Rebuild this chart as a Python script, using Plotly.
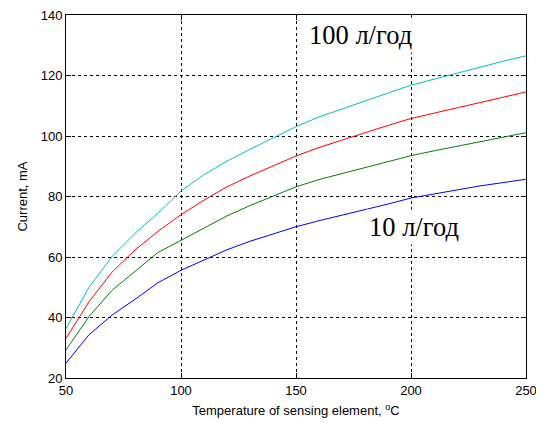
import plotly.graph_objects as go

temperature = [50, 60, 70, 80, 90, 100, 110, 120, 130, 140, 150,
               160, 170, 180, 190, 200, 210, 220, 230, 240, 250]

current_10 = [24.9, 34.3, 40.8, 46.0, 51.5, 55.6, 59.0, 62.4, 65.2, 67.7, 70.0,
              72.0, 73.8, 75.6, 77.5, 79.5, 80.9, 82.2, 83.5, 84.6, 85.7]
current_b = [29.3, 40.3, 49.0, 55.2, 61.5, 65.5, 69.6, 73.6, 77.0, 80.2, 83.2,
             85.6, 87.6, 89.6, 91.5, 93.5, 95.1, 96.6, 98.2, 99.7, 101.1]
current_c = [33.1, 45.2, 55.0, 62.3, 68.5, 74.0, 78.8, 83.2, 86.8, 90.2, 93.4,
             96.2, 98.7, 101.0, 103.5, 105.8, 107.5, 109.2, 111.0, 112.8, 114.6]
current_100 = [36.4, 50.0, 60.1, 67.8, 74.5, 81.8, 87.2, 91.7, 95.6, 99.4, 103.1,
               106.3, 109.0, 111.5, 114.2, 116.8, 118.8, 120.8, 122.8, 124.7, 126.5]

series = [
    (current_10, "#0000FF"),
    (current_b, "#008000"),
    (current_c, "#FF0000"),
    (current_100, "#00BFBF"),
]

x_ticks = [50, 100, 150, 200, 250]
y_ticks = [20, 40, 60, 80, 100, 120, 140]

fig = go.Figure()
for ys, col in series:
    fig.add_trace(go.Scatter(x=temperature, y=ys, mode="lines",
                             line=dict(color=col, width=1), showlegend=False))

axis_common = dict(
    showline=True, linecolor="black", linewidth=1, mirror="ticks",
    ticks="inside", ticklen=5, tickcolor="black",
    showgrid=True, gridcolor="black", gridwidth=1, griddash="3px,3px",
    zeroline=False, automargin=False, ticklabeloverflow="allow",
    tickfont=dict(family="Liberation Sans, Arial", size=13, color="black"),
)

fig.update_xaxes(range=[50, 250], tickvals=x_ticks, **axis_common,
                 title=dict(text="Temperature of sensing element, <sup>o</sup>C",
                            font=dict(family="Liberation Sans, Arial", size=13, color="black"),
                            standoff=9))
fig.update_yaxes(range=[20, 140], tickvals=y_ticks, **axis_common,
                 title=dict(text="Current, mA",
                            font=dict(family="Liberation Sans, Arial", size=13, color="black"),
                            standoff=10))

fig.add_annotation(x=178, y=133.4, xref="x", yref="y", text="100 л/год",
                   showarrow=False, bgcolor="white", borderpad=2,
                   font=dict(family="Liberation Serif, Times New Roman", size=26.5, color="black"))
fig.add_annotation(x=201.5, y=69.9, xref="x", yref="y", text="10 л/год",
                   showarrow=False, bgcolor="white", borderpad=2,
                   font=dict(family="Liberation Serif, Times New Roman", size=26.5, color="black"))

fig.update_layout(
    width=536, height=415,
    margin=dict(l=58, r=18, t=7, b=45),
    plot_bgcolor="white", paper_bgcolor="white",
)

fig.write_html("out.html")
